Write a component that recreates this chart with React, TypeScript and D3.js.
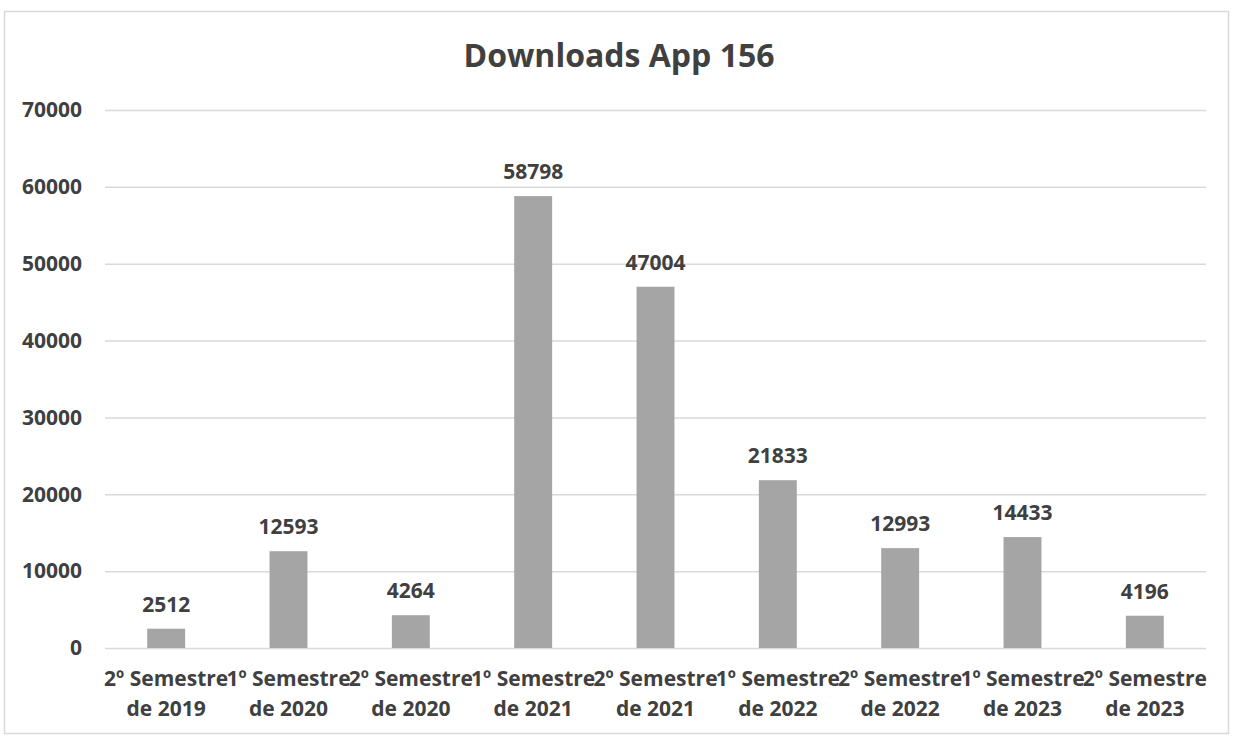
import React, { useEffect, useRef } from 'react';
import * as d3 from 'd3';

const categories = [
  ['2º Semestre', 'de 2019'],
  ['1º Semestre', 'de 2020'],
  ['2º Semestre', 'de 2020'],
  ['1º Semestre', 'de 2021'],
  ['2º Semestre', 'de 2021'],
  ['1º Semestre', 'de 2022'],
  ['2º Semestre', 'de 2022'],
  ['1º Semestre', 'de 2023'],
  ['2º Semestre', 'de 2023'],
];
const downloads = [2512, 12593, 4264, 58798, 47004, 21833, 12993, 14433, 4196];
const yTicks = [0, 10000, 20000, 30000, 40000, 50000, 60000, 70000];

const FONT = "'Open Sans', 'DejaVu Sans', sans-serif";
const TEXT = '#404040';

export default function App() {
  const svgRef = useRef<SVGSVGElement>(null);

  useEffect(() => {
    const W = 1235;
    const H = 736;
    const margin = { top: 110, right: 29, bottom: 88, left: 105 };
    const width = W - margin.left - margin.right;
    const height = H - margin.top - margin.bottom;

    const svg = d3.select(svgRef.current);
    svg.selectAll('*').remove();

    // chart border
    svg.append('rect')
      .attr('x', 4.5).attr('y', 11.5)
      .attr('width', 1224).attr('height', 722)
      .attr('fill', 'white')
      .attr('stroke', '#d9d9d9')
      .attr('stroke-width', 1.5);

    svg.append('text')
      .attr('x', 619)
      .attr('y', 67)
      .attr('text-anchor', 'middle')
      .attr('font-family', FONT)
      .attr('font-size', 32)
      .attr('font-weight', 'bold')
      .attr('fill', TEXT)
      .text('Downloads App 156');

    const g = svg.append('g')
      .attr('transform', `translate(${margin.left},${margin.top})`);

    const keys = categories.map((c, i) => String(i));
    const x = d3.scaleBand()
      .domain(keys)
      .range([0, width])
      .paddingInner(0.69)
      .paddingOuter(0.345);

    const y = d3.scaleLinear()
      .domain([0, 70000])
      .range([height, 0]);

    // gridlines
    g.append('g')
      .call(d3.axisLeft(y).tickValues(yTicks).tickSize(-width).tickFormat(() => ''))
      .call(s => s.select('.domain').remove())
      .call(s => s.selectAll('.tick line').attr('stroke', '#d9d9d9').attr('stroke-width', 1.5));

    // y tick labels
    g.append('g')
      .call(d3.axisLeft(y).tickValues(yTicks).tickSize(0).tickPadding(23).tickFormat(d3.format('d')))
      .call(s => s.select('.domain').remove())
      .call(s => s.selectAll('text')
        .attr('font-family', FONT)
        .attr('font-size', 21)
        .attr('font-weight', 'bold')
        .attr('fill', TEXT));

    // bars
    g.selectAll('.bar')
      .data(downloads)
      .enter()
      .append('rect')
      .attr('class', 'bar')
      .attr('x', (d, i) => x(String(i))!)
      .attr('y', d => y(d))
      .attr('width', x.bandwidth())
      .attr('height', d => height - y(d))
      .attr('fill', '#a5a5a5');

    // value labels
    g.selectAll('.val')
      .data(downloads)
      .enter()
      .append('text')
      .attr('class', 'val')
      .attr('x', (d, i) => x(String(i))! + x.bandwidth() / 2)
      .attr('y', d => y(d) - 17)
      .attr('text-anchor', 'middle')
      .attr('font-family', FONT)
      .attr('font-size', 21)
      .attr('font-weight', 'bold')
      .attr('fill', TEXT)
      .text(d => d);

    // x category labels
    const xl = g.selectAll('.xl')
      .data(categories)
      .enter()
      .append('text')
      .attr('class', 'xl')
      .attr('x', (d, i) => x(String(i))! + x.bandwidth() / 2)
      .attr('y', height + 38)
      .attr('text-anchor', 'middle')
      .attr('font-family', FONT)
      .attr('font-size', 21)
      .attr('font-weight', 'bold')
      .attr('fill', TEXT);
    xl.append('tspan')
      .attr('x', (d, i) => x(String(i))! + x.bandwidth() / 2)
      .text(d => d[0]);
    xl.append('tspan')
      .attr('x', (d, i) => x(String(i))! + x.bandwidth() / 2)
      .attr('dy', 30)
      .text(d => d[1]);
  }, []);

  return (
    <svg ref={svgRef} width={1235} height={736}
      style={{ position: 'absolute', left: 0, top: 0, background: 'white' }} />
  );
}
